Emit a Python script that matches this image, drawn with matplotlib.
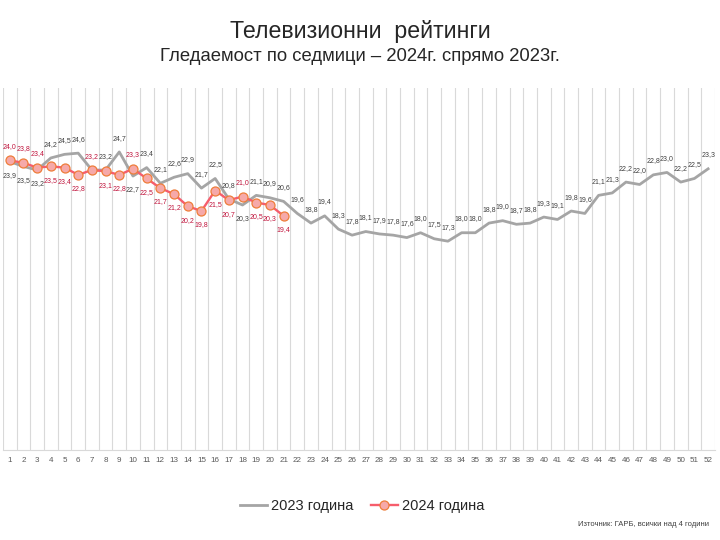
import matplotlib
matplotlib.use("Agg")
import matplotlib.pyplot as plt

plt.rcParams["font.family"] = ["Liberation Sans", "DejaVu Sans"]

# weekly ratings
weeks = list(range(1, 53))
y2023 = [23.9, 23.5, 23.2, 24.2, 24.5, 24.6, 23.2, 23.2, 24.7, 22.7,
         23.4, 22.1, 22.6, 22.9, 21.7, 22.5, 20.8, 20.3, 21.1, 20.9,
         20.6, 19.6, 18.8, 19.4, 18.3, 17.8, 18.1, 17.9, 17.8, 17.6,
         18.0, 17.5, 17.3, 18.0, 18.0, 18.8, 19.0, 18.7, 18.8, 19.3,
         19.1, 19.8, 19.6, 21.1, 21.3, 22.2, 22.0, 22.8, 23.0, 22.2,
         22.5, 23.3]
y2024 = [24.0, 23.8, 23.4, 23.5, 23.4, 22.8, 23.2, 23.1, 22.8, 23.3,
         22.5, 21.7, 21.2, 20.2, 19.8, 21.5, 20.7, 21.0, 20.5, 20.3,
         19.4]

# label placement: 1 = above, -1 = below
pos2023 = [-1, -1, -1] + [1] * 6 + [-1] + [1] * 7 + [-1] + [1] * 34
pos2024 = [1, 1, 1, -1, -1, -1, 1, -1, -1, 1,
           -1, -1, -1, -1, -1, -1, -1, 1, -1, -1, -1]

fig = plt.figure(figsize=(7.2, 5.4), dpi=100)
ax = fig.add_axes([0.004, 0.167, 0.989, 0.670])

gray = "#A5A5A5"
red = "#F65D6C"

ax.plot(weeks, y2023, color=gray, lw=2.0, label="2023 година", zorder=3)
ax.plot(weeks[:len(y2024)], y2024, color=red, lw=1.7, marker="o", ms=6.5,
        mfc="#F6A9A9", mec="#EE7D3A", mew=0.9, label="2024 година", zorder=4)

def fmt(v):
    return f"{v:.1f}".replace(".", ",")

for i, (w, v, p) in enumerate(zip(weeks, y2023, pos2023)):
    # hidden behind the 2024 label when both sit at the same spot
    if i < len(y2024) and y2024[i] == v and pos2024[i] == p:
        continue
    ax.annotate(fmt(v), (w, v), xytext=(0, 10 * p), textcoords="offset points",
                ha="center", va="center", fontsize=5.0, color="#404040", zorder=5)
for w, v, p in zip(weeks, y2024, pos2024):
    ax.annotate(fmt(v), (w, v), xytext=(0, 10 * p), textcoords="offset points",
                ha="center", va="center", fontsize=5.0, color="#C0143C", zorder=6)

ax.set_xlim(0.5, 52.5)
ax.set_ylim(0, 30)
ax.set_xticks(weeks)
ax.set_xticklabels([str(w) for w in weeks], fontsize=5.8, color="#595959")
ax.tick_params(axis="x", length=0, pad=5)
ax.set_yticks([])
for b in [x + 0.5 for x in range(0, 53)]:
    ax.axvline(b, color="#D9D9D9", lw=0.8, zorder=1)
for s in ["top", "left", "right"]:
    ax.spines[s].set_visible(False)
ax.spines["bottom"].set_color("#D9D9D9")

fig.text(0.5, 0.942, "Телевизионни  рейтинги", ha="center", va="center",
         fontsize=16.7, color="#262626")
fig.text(0.5, 0.896, "Гледаемост по седмици – 2024г. спрямо 2023г.", ha="center",
         va="center", fontsize=13.3, color="#262626")

fig.legend(loc="center", bbox_to_anchor=(0.503, 0.063), ncol=2, frameon=False,
           fontsize=10.5, handlelength=1.85, columnspacing=1.2, handletextpad=0.25,
           labelcolor="#262626")
fig.text(0.985, 0.028, "Източник: ГАРБ, всички над 4 години", ha="right",
         va="center", fontsize=5.5, color="#404040")

fig.savefig("out.png", dpi=100)
